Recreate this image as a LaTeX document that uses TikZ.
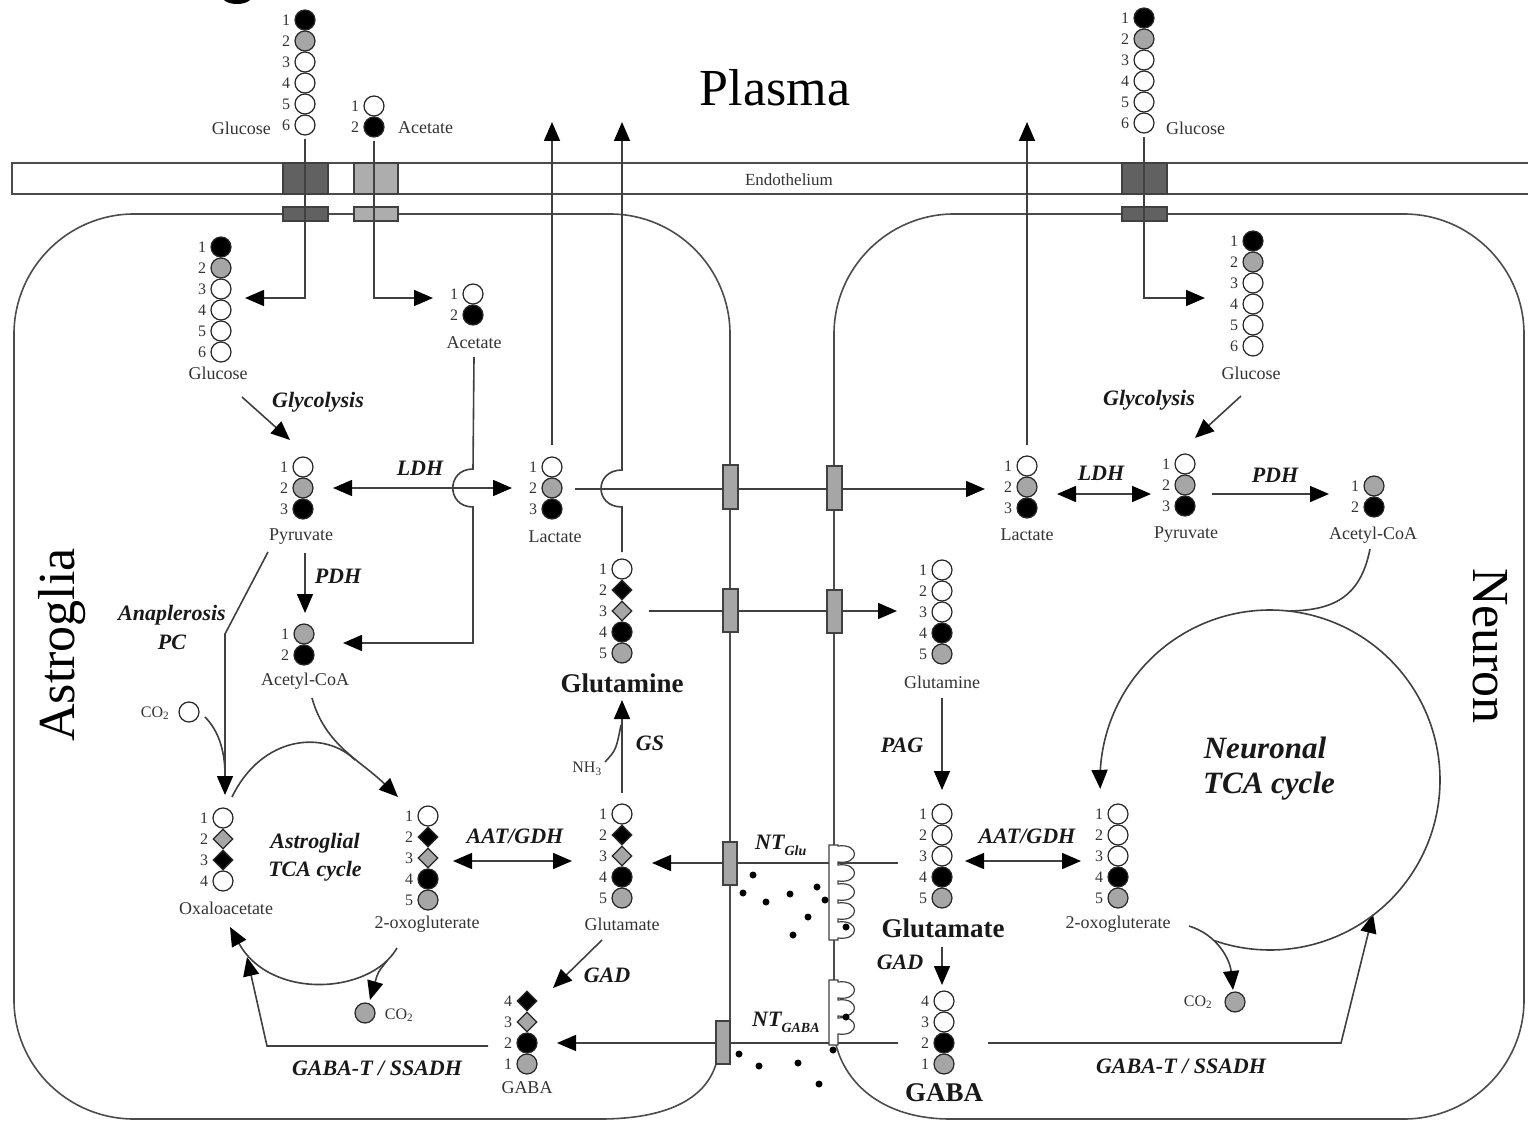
\documentclass[tikz,border=0pt]{standalone}
\usepackage{fontspec}
\setmainfont{Liberation Serif}
\usetikzlibrary{arrows.meta,shapes.geometric}
\newcommand\mol[4]{%
  \foreach \sh/\fc/\n [count=\i from 0] in {#4}{%
    \node[atom,shape=\sh,fill=\fc] (#1\n) at (#2,{#3+21*\i}) {};
    \node[num,anchor=east] (#1n\n) at ([xshift=-4pt]#1\n.west) {\n};
  }}
\begin{document}
\begin{tikzpicture}[x=1pt,y=-1pt,
  atom/.style={draw=black!85,line width=1.2pt,minimum size=20pt,inner sep=0pt},
  num/.style={font=\fontsize{16}{17}\selectfont,text=black!80,inner sep=0pt},
  lab/.style={font=\fontsize{18}{19}\selectfont,text=black!80,inner sep=0pt},
  blab/.style={font=\fontsize{27}{28}\selectfont\bfseries,text=black!90,inner sep=0pt},
  enz/.style={font=\fontsize{22}{24}\selectfont\bfseries\itshape,text=black!90,inner sep=0pt},
  benz/.style={font=\fontsize{31}{34}\selectfont\bfseries\itshape,text=black!90,inner sep=0pt},
  ttl/.style={font=\fontsize{52}{56}\selectfont,inner sep=0pt},
  ln/.style={draw=black!75,line width=1.6pt},
  arr/.style={ln,-{Triangle[length=19pt,width=16pt,color=black]}},
  rarr/.style={ln,{Triangle[length=19pt,width=16pt,color=black]}-},
  darr/.style={ln,{Triangle[length=19pt,width=16pt,color=black]}-{Triangle[length=19pt,width=16pt,color=black]}},
  mem/.style={draw=black!70,line width=1.6pt},
  tbox/.style={draw=black!75,line width=1.2pt,fill=black!35},
  rec/.style={draw=black!75,line width=1.2pt,fill=white}]
\useasboundingbox (0,0) rectangle (1528,1123);
\clip (0,0) rectangle (1528,1123);
\fill (237,-5) ellipse[x radius=16,y radius=9];

% cells
\draw[mem] (730,1021) -- (730,334) .. controls (730,268) and (676,214) .. (610,214) -- (134,214)
  .. controls (68,214) and (14,268) .. (14,334) -- (14,1000) .. controls (14,1066) and (68,1119) .. (134,1119)
  -- (600,1119) .. controls (665,1119) and (705,1100) .. (716,1064);
\draw[mem] (834,1045) -- (834,334) .. controls (834,268) and (888,214) .. (954,214) -- (1404,214)
  .. controls (1470,214) and (1524,268) .. (1524,334) -- (1524,1000) .. controls (1524,1066) and (1470,1119) .. (1404,1119)
  -- (950,1119) .. controls (890,1119) and (848,1090) .. (836,1045);

% endothelium
\draw[mem,fill=white] (12,163) rectangle (1545,194);
\node[font=\fontsize{17}{18}\selectfont,text=black!80] (endo) at (789,180) {Endothelium};
\draw[tbox,fill=black!62] (283,163) rectangle (328,194);
\draw[tbox,fill=black!32] (354,163) rectangle (398,194);
\draw[tbox,fill=black!62] (1122,163) rectangle (1167,194);
\draw[tbox,fill=black!62] (283,207) rectangle (328,221);
\draw[tbox,fill=black!32] (354,207) rectangle (398,221);
\draw[tbox,fill=black!62] (1122,207) rectangle (1167,221);

% molecules
\mol{pgL}{305}{20}{circle/black/1,circle/black!35/2,circle/white/3,circle/white/4,circle/white/5,circle/white/6}
\mol{pac}{374}{106}{circle/white/1,circle/black/2}
\mol{pgR}{1144}{18}{circle/black/1,circle/black!35/2,circle/white/3,circle/white/4,circle/white/5,circle/white/6}
\mol{agl}{221}{247}{circle/black/1,circle/black!35/2,circle/white/3,circle/white/4,circle/white/5,circle/white/6}
\mol{aac}{473}{294}{circle/white/1,circle/black/2}
\mol{apy}{303}{467}{circle/white/1,circle/black!35/2,circle/black/3}
\mol{ala}{552}{467}{circle/white/1,circle/black!35/2,circle/black/3}
\mol{aco}{304}{634}{circle/black!35/1,circle/black/2}
\mol{agn}{622}{569}{circle/white/1,diamond/black/2,diamond/black!35/3,circle/black/4,circle/black!35/5}
\mol{oaa}{223}{818}{circle/white/1,diamond/black!35/2,diamond/black/3,circle/white/4}
\mol{aox}{428}{816}{circle/white/1,diamond/black/2,diamond/black!35/3,circle/black/4,circle/black!35/5}
\mol{agu}{622}{814}{circle/white/1,diamond/black/2,diamond/black!35/3,circle/black/4,circle/black!35/5}
\mol{aga}{527}{1001}{diamond/black/4,diamond/black!35/3,circle/black/2,circle/black!35/1}
\mol{ngn}{942}{570}{circle/white/1,circle/white/2,circle/white/3,circle/black/4,circle/black!35/5}
\mol{nla}{1027}{466}{circle/white/1,circle/black!35/2,circle/black/3}
\mol{npy}{1185}{464}{circle/white/1,circle/black!35/2,circle/black/3}
\mol{nco}{1374}{486}{circle/black!35/1,circle/black/2}
\mol{ngl}{1253}{241}{circle/black/1,circle/black!35/2,circle/white/3,circle/white/4,circle/white/5,circle/white/6}
\mol{ngu}{942}{814}{circle/white/1,circle/white/2,circle/white/3,circle/black/4,circle/black!35/5}
\mol{nox}{1118}{814}{circle/white/1,circle/white/2,circle/white/3,circle/black/4,circle/black!35/5}
\mol{nga}{944}{1001}{circle/white/4,circle/white/3,circle/black/2,circle/black!35/1}

% molecule labels
\node[lab,anchor=east] (tpgL) at (271,128) {Glucose};
\node[lab,anchor=west] (tpac) at (398,128) {Acetate};
\node[lab,anchor=west] (tpgR) at (1166,128) {Glucose};
\node[lab] (tagl) at (218,373) {Glucose};
\node[lab] (taac) at (474,343) {Acetate};
\node[lab] (tapy) at (301,537) {Pyruvate};
\node[lab] (tala) at (555,537) {Lactate};
\node[lab] (taco) at (305,681) {Acetyl-CoA};
\node[blab] (tagn) at (622,683) {Glutamine};
\node[lab] (toaa) at (226,908) {Oxaloacetate};
\node[lab] (taox) at (427,924) {2-oxogluterate};
\node[lab] (tagu) at (622,924) {Glutamate};
\node[lab] (taga) at (527,1088) {GABA};
\node[lab] (tngn) at (942,682) {Glutamine};
\node[lab] (tnla) at (1027,535) {Lactate};
\node[lab] (tnpy) at (1186,535) {Pyruvate};
\node[lab] (tnco) at (1373,535) {Acetyl-CoA};
\node[lab] (tngl) at (1251,373) {Glucose};
\node[blab] (tngu) at (943,928) {Glutamate};
\node[lab] (tnox) at (1118,924) {2-oxogluterate};
\node[blab] (tnga) at (944,1093) {GABA};

% CO2, NH3
\node[num] (co2a) at (155,713) {CO\textsubscript{2}};
\node[atom,circle,fill=white] (co2ac) at (189,712) {};
\node[atom,circle,fill=black!35] (co2bc) at (365,1013) {};
\node[num] (co2b) at (399,1015) {CO\textsubscript{2}};
\node[num] (co2n) at (1198,1002) {CO\textsubscript{2}};
\node[atom,circle,fill=black!35] (co2nc) at (1235,1002) {};
\node[num] (nh3) at (587,769) {NH\textsubscript{3}};

% titles
\node[ttl] (plasma) at (775,88) {Plasma};
\node[ttl,rotate=90] (astro) at (62,645) {Astroglia};
\node[ttl,rotate=-90] (neuron) at (1490,646) {Neuron};

% enzymes
\node[enz] (e1) at (318,402) {Glycolysis};
\node[enz] (e2) at (1149,400) {Glycolysis};
\node[enz] (e3) at (420,468) {LDH};
\node[enz] (e4) at (1101,473) {LDH};
\node[enz] (e5) at (338,576) {PDH};
\node[enz] (e6) at (1275,475) {PDH};
\node[enz] (e7) at (172,615) {Anaplerosis};
\node[enz] (e8) at (172,642) {PC};
\node[enz] (e9) at (315,843) {Astroglial};
\node[enz] (e10) at (315,871) {TCA cycle};
\node[enz] (e11) at (515,836) {AAT/GDH};
\node[enz] (e12) at (1027,836) {AAT/GDH};
\node[enz] (e13) at (650,743) {GS};
\node[enz] (e14) at (902,745) {PAG};
\node[enz] (e15) at (607,975) {GAD};
\node[enz] (e16) at (900,962) {GAD};
\node[enz] (e17) at (377,1068) {GABA-T / SSADH};
\node[enz] (e18) at (1181,1066) {GABA-T / SSADH};
\node[benz] (e19) at (1265,748) {Neuronal};
\node[benz] (e20) at (1269,786) {TCA cycle};
\node[enz,anchor=west] (ntg) at (755,845) {NT\raisebox{-6pt}{\fontsize{14}{15}\selectfont Glu}};
\node[enz,anchor=west] (ntb) at (752,1022) {NT\raisebox{-6pt}{\fontsize{14}{15}\selectfont GABA}};

% transport arrows through endothelium
\draw[arr] ([yshift=-3pt]pgL6.south) |- (245,298);
\draw[arr] ([yshift=-3pt]pac2.south) |- (433,298);
\draw[arr] ([yshift=-3pt]pgR6.south) |- (1205,298);

% astroglia
\draw[arr] (242,397) -- (290,440);
\draw[darr] (333,488) -- (512,488);
\draw[arr] (taac.south) ++(0,8) -- (473,469) .. controls (446,469) and (446,507) .. (473,507) -- (473,643) -- (343,643);
\draw[arr] (552,445) -- (552,122);
\draw[arr] (575,489) -- (985,489);
\draw[arr] (622,552) -- (622,507) .. controls (594,507) and (594,470) .. (622,470) -- (622,122);
\draw[arr] (649,611) -- (897,611);
\draw[arr] (305,553) -- (305,613);
\draw[arr] (268,552) -- (225,634) -- (225,795);
\draw[ln] (205,717) .. controls (218,730) and (225,750) .. (225,775);
\draw[arr] (312,698) .. controls (325,745) and (360,760) .. (398,797);
\draw[ln] (232,797) .. controls (262,735) and (325,730) .. (355,760);
\draw[arr] (397,948) .. controls (370,995) and (270,1000) .. (230,927);
\draw[arr] (387,961) .. controls (378,972) .. (370,1000);
\draw[darr] (453,861) -- (572,861);
\draw[arr] (622,793) -- (622,700);
\draw[ln] (605,762) .. controls (616,750) .. (621,725);
\draw[arr] (602,940) -- (553,988);
\draw[arr] (488,1046) -- (267,1046) -- (247,957);

% synapse lines
\draw[arr] (898,863) -- (652,863);
\draw[arr] (898,1043) -- (557,1043);

% neuron
\draw[arr] (1241,396) -- (1195,438);
\draw[arr] (1027,445) -- (1027,122);
\draw[darr] (1057,494) -- (1151,494);
\draw[arr] (1212,494) -- (1329,494);
\draw[arr] (942,698) -- (942,790);
\draw[darr] (965,861) -- (1081,861);
\draw[arr] (942,947) -- (942,985);
\draw[arr] (988,1043) -- (1341,1043) -- (1373,914);
\coordinate (ntca) at (1270,780);
\draw[rarr] plot[smooth,domain=-183:109,samples=90] ({1270+170*cos(\x)},{780+170*sin(\x)});
\draw[ln] (1370,549) .. controls (1360,600) and (1330,610) .. (1290,611);
\draw[arr] (1189,926) .. controls (1218,935) and (1230,960) .. (1233,990);

% membrane transporters
\draw[tbox] (723,465) rectangle (738,509);
\draw[tbox] (827,466) rectangle (842,510);
\draw[tbox] (723,589) rectangle (738,632);
\draw[tbox] (827,590) rectangle (842,633);
\draw[tbox] (723,842) rectangle (737,885);
\draw[tbox] (716,1021) rectangle (730,1064);

% receptors
\draw[rec] (838,845) -- (829,845) -- (829,940) -- (838,940)
  foreach \c in {930,911,892,873,854} { -- (838,\c+8) .. controls (860,\c+11) and (860,\c-11) .. (838,\c-8) } -- cycle;
\draw[rec] (838,980) -- (829,980) -- (829,1045) -- (838,1045)
  foreach \c in {1026,1008,990} { -- (838,\c+8) .. controls (860,\c+11) and (860,\c-11) .. (838,\c-8) } -- cycle;

% neurotransmitter dots
\foreach \p in {(753,875),(743,893),(766,902),(790,894),(817,887),(825,900),(808,917),(793,935),(846,927),
  (846,1017),(833,1050),(739,1054),(759,1066),(798,1063),(819,1084)}
  \fill \p circle[radius=3.5];
\end{tikzpicture}
\end{document}
